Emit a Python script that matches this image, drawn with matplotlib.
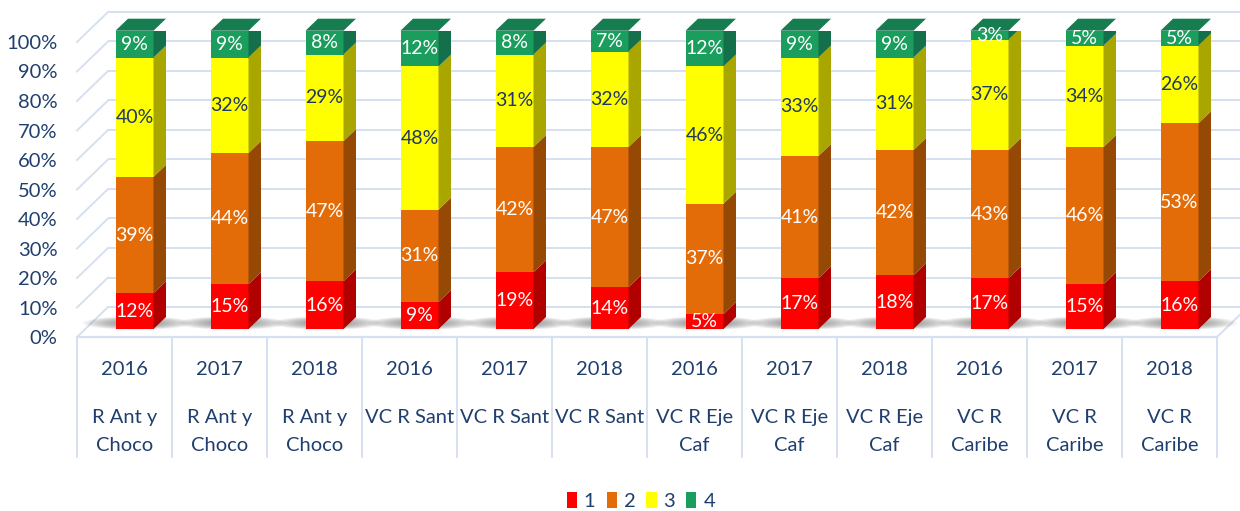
import matplotlib
matplotlib.use("Agg")
import matplotlib.pyplot as plt
from matplotlib.patches import Polygon, Rectangle, Ellipse, Patch
from matplotlib import transforms

# ---------------- data ----------------
years = ["2016", "2017", "2018"] * 4
regions = ["R Ant y\nChoco"] * 3 + ["VC R Sant"] * 3 + ["VC R Eje\nCaf"] * 3 + ["VC R\nCaribe"] * 3
s1 = [12, 15, 16, 9, 19, 14, 5, 17, 18, 17, 15, 16]
s2 = [39, 44, 47, 31, 42, 47, 37, 41, 42, 43, 46, 53]
s3 = [40, 32, 29, 48, 31, 32, 46, 33, 31, 37, 34, 26]
s4 = [9, 9, 8, 12, 8, 7, 12, 9, 9, 3, 5, 5]
series_names = ["1", "2", "3", "4"]
yticks = list(range(0, 101, 10))

# ---------------- styles ----------------
front_cols = ["#FF0000", "#E36C09", "#FFFF00", "#1B9D5E"]
side_cols = ["#B00000", "#964805", "#A9A600", "#14704A"]
top_col = "#167D50"
label_cols = ["white", "white", "#1F3864", "white"]
grid_col = "#D5E0F0"
text_col = "#1F3F6E"

plt.rcParams['font.family'] = ['Lato', 'DejaVu Sans']

W, H = 1240, 511
fig = plt.figure(figsize=(W / 100, H / 100), dpi=100)

# wall / axis-label axes: 0% -> y=337px, 100% -> y=42px
ax_wall = fig.add_axes([77 / W, (H - 337) / H, 1140 / W, 295 / H])
ax_wall.set_xlim(-0.5, 11.5)
ax_wall.set_ylim(0, 100)
# bar axes: 0% -> y=329px, 100% -> y=30.7px
ax_bar = fig.add_axes([87 / W, (H - 329) / H, 1140 / W, 298.3 / H])
ax_bar.set_xlim(-0.5, 11.5)
ax_bar.set_ylim(0, 100)
for a in (ax_wall, ax_bar):
    a.set_facecolor("none")
    for sp in a.spines.values():
        sp.set_visible(False)
ax_bar.set_xticks([])
ax_bar.set_yticks([])

n = len(s1)
# wall depth offset in wall data units
WDX = 31 / 95
WDY = 30 / 2.95

# back wall gridlines and left-wall diagonals
for v in yticks:
    ax_wall.plot([-0.5 + WDX, 11.5 + WDX], [v + WDY, v + WDY], color=grid_col, lw=1.4,
                 clip_on=False, zorder=1, solid_capstyle="butt")
    ax_wall.plot([-0.5, -0.5 + WDX], [v, v + WDY], color=grid_col, lw=1.4,
                 clip_on=False, zorder=1)
# floor
ax_wall.plot([-0.5, 11.5], [0, 0], color=grid_col, lw=1.6, clip_on=False, zorder=1)
ax_wall.plot([11.5, 11.5 + WDX], [0, WDY], color=grid_col, lw=1.4, clip_on=False, zorder=1)
# category dividers below floor
ax_wall.vlines([k - 0.5 for k in range(n + 1)], -41, 0, color=grid_col, lw=1.4, clip_on=False)

ax_wall.set_xticks([])
ax_wall.set_yticks(yticks)
ax_wall.set_yticklabels([f"{v}%" for v in yticks], fontsize=14.5, color=text_col)
ax_wall.tick_params(axis="y", length=0, pad=14)

# category labels
btr = transforms.blended_transform_factory(ax_wall.transData, fig.transFigure)
for i in range(n):
    ax_wall.text(i, (H - 369) / H, years[i], ha="center", va="center", fontsize=14.5,
                 color=text_col, transform=btr)
    for j, line in enumerate(regions[i].split("\n")):
        ax_wall.text(i, (H - 417 - 28 * j) / H, line, ha="center", va="center",
                     fontsize=14.5, color=text_col, transform=btr)

# bars with 3D faces
bw = 38 / 95
DX = 12.5 / 95
DY = 12 / 2.983
series = [s1, s2, s3, s4]
for i in range(n):
    # soft shadow band at the base
    for k in range(10):
        ax_bar.add_patch(Ellipse((i + 0.03, 2.0), 1.15 - 0.07 * k, 4.5 - 0.25 * k,
                                 facecolor="#505050", edgecolor="none", alpha=0.06,
                                 zorder=2, clip_on=False))
    cum = 0
    for si, s in enumerate(series):
        v = s[i]
        y0, y1 = cum, cum + v
        xl, xr = i - bw / 2, i + bw / 2
        ax_bar.add_patch(Rectangle((xl, y0), bw, v, facecolor=front_cols[si],
                                   edgecolor="none", zorder=3))
        ax_bar.add_patch(Polygon([(xr, y0), (xr + DX, y0 + DY), (xr + DX, y1 + DY), (xr, y1)],
                                 closed=True, facecolor=side_cols[si], edgecolor="none",
                                 zorder=3))
        ax_bar.text(i, (y0 + y1) / 2, f"{v}%", ha="center", va="center", fontsize=14,
                    color=label_cols[si], zorder=5)
        cum = y1
    xl, xr = i - bw / 2, i + bw / 2
    ax_bar.add_patch(Polygon([(xl, cum), (xr, cum), (xr + DX, cum + DY), (xl + DX, cum + DY)],
                             closed=True, facecolor=top_col, edgecolor="none", zorder=3,
                             clip_on=False))

# legend
handles = [Patch(facecolor=c, edgecolor="none") for c in front_cols]
fig.legend(handles, series_names, loc="center", bbox_to_anchor=(641 / W, (H - 501) / H),
           ncol=4, frameon=False, fontsize=14.5, labelcolor=text_col,
           handlelength=0.5, handleheight=0.85, handletextpad=0.35, columnspacing=0.55)

fig.savefig("out.png", dpi=100)
